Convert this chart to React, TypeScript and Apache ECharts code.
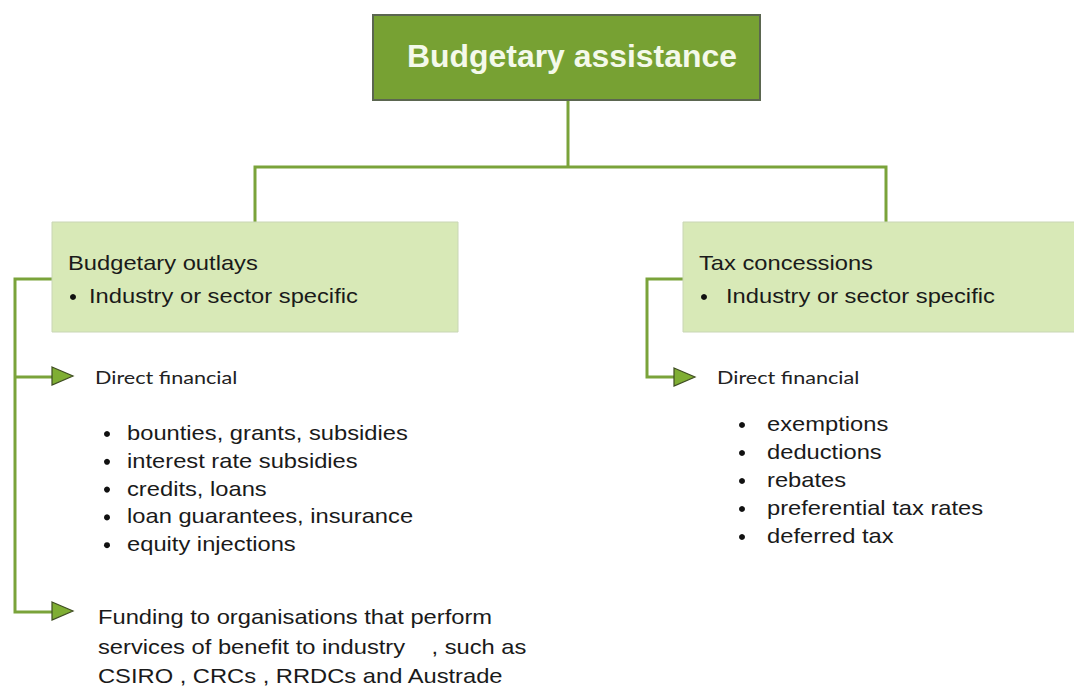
import React, { useEffect, useRef } from "react";
import * as echarts from "echarts";

const rootTitle = "Budgetary assistance";
const branchTitles = ["Budgetary outlays", "Tax concessions"];
const branchBullets = ["Industry or sector specific", "Industry or sector specific"];
const subHeads = ["Direct financial", "Direct financial"];
const leftItems = [
  "bounties, grants, subsidies",
  "interest rate subsidies",
  "credits, loans",
  "loan guarantees, insurance",
  "equity injections",
];
const rightItems = ["exemptions", "deductions", "rebates", "preferential tax rates", "deferred tax"];
const fundingLines = [
  "Funding to organisations that perform",
  "services of benefit to industry    , such as",
  "CSIRO , CRCs , RRDCs and Austrade",
];

const GREEN = "#77a133";
const LINE = "#7aa33a";
const LIGHT = "#d8e9b7";
const ARIAL = "'Liberation Sans', Arial, sans-serif";
const CAL = "Lato, 'Open Sans', sans-serif";
const SX = 1.13;

export default function App() {
  const ref = useRef<HTMLDivElement>(null);
  useEffect(() => {
    document.body.style.margin = "0";
    const chart = echarts.init(ref.current!, null, { renderer: "svg" });
    const g: any[] = [];
    const line = (pts: number[][]) =>
      g.push({ type: "polyline", shape: { points: pts }, style: { stroke: LINE, lineWidth: 3, fill: null } });
    const arrow = (x: number, y: number) =>
      g.push({
        type: "polygon",
        shape: { points: [[x, y - 9], [x + 21, y], [x, y + 9]] },
        style: { fill: "#7fae33", stroke: "#3f4d22", lineWidth: 1.2 },
      });
    const text = (t: string, x: number, y: number, size: number, font: string, sx = SX, color = "#1a1a1a") =>
      g.push({
        type: "text",
        x,
        y,
        scaleX: sx,
        style: { text: t, fontSize: size, fontFamily: font, fill: color, textVerticalAlign: "middle" },
      });

    // connectors
    line([[568, 100], [568, 167]]);
    line([[255, 222], [255, 167], [886, 167], [886, 222]]);
    line([[52, 279], [15, 279], [15, 612], [52, 612]]);
    line([[15, 377], [52, 377]]);
    line([[683, 279], [647, 279], [647, 377], [675, 377]]);
    arrow(52, 376);
    arrow(52, 611);
    arrow(674, 377);

    // root box
    g.push({
      type: "rect",
      shape: { x: 373, y: 15, width: 387, height: 85 },
      style: { fill: GREEN, stroke: "#5b6650", lineWidth: 2 },
    });
    g.push({
      type: "text",
      x: 572,
      y: 57,
      scaleX: 1.03,
      style: {
        text: rootTitle,
        fontSize: 31,
        fontWeight: "bold",
        fontFamily: ARIAL,
        fill: "#f4f9ea",
        textAlign: "center",
        textVerticalAlign: "middle",
      },
    });

    // branch boxes
    const bx = [52, 683];
    const bw = [406, 400];
    bx.forEach((x, i) => {
      g.push({
        type: "rect",
        shape: { x, y: 222, width: bw[i], height: 110 },
        style: { fill: LIGHT, stroke: "#c9d6b5", lineWidth: 1 },
      });
      text(branchTitles[i], x + 16, 263, 21, ARIAL);
      g.push({ type: "circle", shape: { cx: x + 21, cy: 297, r: 3 }, style: { fill: "#111" } });
      text(branchBullets[i], x + (i === 0 ? 37 : 43), 296, 21, ARIAL);
    });

    // sub heads
    text(subHeads[0], 95, 377, 18, CAL, 1.2, "#222");
    text(subHeads[1], 717, 377, 18, CAL, 1.2, "#222");

    leftItems.forEach((t, i) => {
      const y = 433 + i * 27.8;
      g.push({ type: "circle", shape: { cx: 107, cy: y + 1, r: 3 }, style: { fill: "#111" } });
      text(t, 127, y, 21, ARIAL);
    });
    rightItems.forEach((t, i) => {
      const y = 424 + i * 28;
      g.push({ type: "circle", shape: { cx: 742, cy: y + 1, r: 3 }, style: { fill: "#111" } });
      text(t, 767, y, 21, ARIAL);
    });
    fundingLines.forEach((t, i) => text(t, 98, 617 + i * 29.5, 21, ARIAL));

    chart.setOption({ animation: false, backgroundColor: "#ffffff", graphic: { elements: g } });
    return () => chart.dispose();
  }, []);
  return <div ref={ref} style={{ width: 1074, height: 688 }} />;
}
